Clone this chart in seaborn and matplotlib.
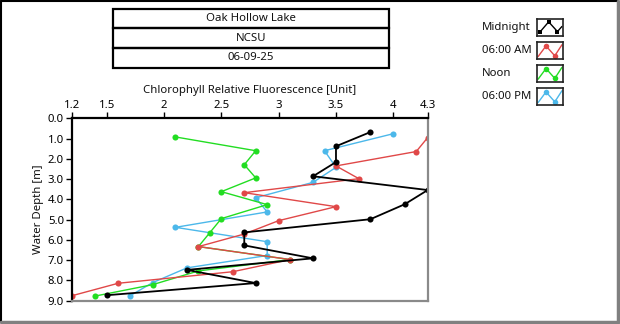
import numpy as np
import pandas as pd
import matplotlib
matplotlib.use("Agg")
import matplotlib.pyplot as plt
from matplotlib.lines import Line2D
from matplotlib.patches import Rectangle
import seaborn as sns

# ---- data ----
series_names = ["Midnight", "06:00 AM", "Noon", "06:00 PM"]
midnight_val = [3.8, 3.5, 3.5, 3.3, 4.3, 4.1, 3.8, 2.7, 2.7, 3.3, 2.2, 2.8, 1.5]
midnight_depth = [0.68, 1.38, 2.16, 2.86, 3.54, 4.24, 4.98, 5.63, 6.27, 6.91, 7.48, 8.13, 8.73]
am_val = [4.3, 4.2, 3.5, 3.7, 2.7, 3.5, 3.0, 2.7, 2.3, 3.1, 2.6, 1.6, 1.2]
am_depth = [0.95, 1.64, 2.35, 2.98, 3.67, 4.36, 5.05, 5.71, 6.33, 6.97, 7.57, 8.14, 8.75]
noon_val = [2.1, 2.8, 2.7, 2.8, 2.5, 2.9, 2.5, 2.4, 2.3, 3.1, 2.3, 1.9, 1.4]
noon_depth = [0.92, 1.60, 2.29, 2.94, 3.62, 4.26, 4.95, 5.64, 6.33, 6.97, 7.53, 8.21, 8.77]
pm_val = [4.0, 3.4, 3.5, 3.3, 2.8, 2.9, 2.1, 2.9, 2.9, 2.2, 1.9, 1.7]
pm_depth = [0.76, 1.60, 2.42, 3.16, 3.92, 4.62, 5.38, 6.09, 6.77, 7.38, 8.11, 8.77]

x_ticks = [1.2, 1.5, 2, 2.5, 3, 3.5, 4, 4.3]
x_tick_labels = ["1.2", "1.5", "2", "2.5", "3", "3.5", "4", "4.3"]
y_ticks = [0, 1, 2, 3, 4, 5, 6, 7, 8, 9]
y_tick_labels = ["0.0", "1.0", "2.0", "3.0", "4.0", "5.0", "6.0", "7.0", "8.0", "9.0"]
title_lines = ["Oak Hollow Lake", "NCSU", "06-09-25"]

colors = {"Midnight": "#000000", "06:00 AM": "#e04848",
          "Noon": "#22dd22", "06:00 PM": "#4cb8ea"}
widths = {"Midnight": 1.3, "06:00 AM": 1.0, "Noon": 1.0, "06:00 PM": 1.0}

frames = []
for name, v, d in [("Midnight", midnight_val, midnight_depth),
                   ("06:00 AM", am_val, am_depth),
                   ("Noon", noon_val, noon_depth),
                   ("06:00 PM", pm_val, pm_depth)]:
    frames.append(pd.DataFrame({"value": v, "depth": d, "series": name}))
df = pd.concat(frames, ignore_index=True)

sns.set_theme(style="white")
plt.rcParams["font.family"] = ["Noto Sans", "DejaVu Sans"]
FS = 8.2

W, H = 620, 324
fig = plt.figure(figsize=(W / 100, H / 100), dpi=100)
fig.patch.set_facecolor("white")

def fx(px):
    return px / W

def fy(py):
    return 1 - py / H

# axes
x0, x1, y0, y1 = 72.3, 427.7, 118.3, 300.7
ax = fig.add_axes([fx(x0), fy(y1), fx(x1) - fx(x0), fy(y0) - fy(y1)])
ax.set_facecolor("white")

for name in ["06:00 PM", "Noon", "06:00 AM", "Midnight"]:
    sub = df[df["series"] == name]
    sns.lineplot(data=sub, x="value", y="depth", sort=False, estimator=None,
                 color=colors[name], linewidth=widths[name], marker="o",
                 markersize=4.4, markeredgewidth=0, ax=ax, legend=False)

ax.set_xlim(1.2, 4.3)
ax.set_ylim(9.0, 0.0)
ax.xaxis.tick_top()
ax.xaxis.set_label_position("top")
ax.set_xticks(x_ticks)
ax.set_xticklabels(x_tick_labels, fontsize=FS)
ax.set_yticks(y_ticks)
ax.set_yticklabels(y_tick_labels, fontsize=FS)
ax.tick_params(axis="x", which="both", top=True, bottom=False, length=4,
               width=1, color="black", pad=1, labelcolor="black")
ax.tick_params(axis="y", which="both", left=True, length=4, width=1,
               color="black", pad=2, labelcolor="black")
ax.set_xlabel("Chlorophyll Relative Fluorescence [Unit]", fontsize=FS, labelpad=5, color="#111111")
ax.set_ylabel("Water Depth [m]", fontsize=FS, labelpad=2.5, color="#111111")
for side in ["left", "top"]:
    ax.spines[side].set_color("black")
    ax.spines[side].set_linewidth(1.6)
for side in ["right", "bottom"]:
    ax.spines[side].set_color("#8a8a8a")
    ax.spines[side].set_linewidth(1.6)
ax.grid(False)

# title boxes
bx0, bx1 = 112.7, 388.7
rows = [8.7, 28.3, 48.0, 68.0]
for i, t in enumerate(title_lines):
    top, bot = rows[i], rows[i + 1]
    fig.add_artist(Rectangle((fx(bx0), fy(bot)), fx(bx1) - fx(bx0), fy(top) - fy(bot),
                             transform=fig.transFigure, fill=False,
                             edgecolor="black", linewidth=1.6))
    fig.text(fx((bx0 + bx1) / 2), fy((top + bot) / 2), t, ha="center", va="center",
             fontsize=FS, color="#111111")

# legend
leg_rows = [27.3, 50.7, 73.3, 96.7]
for name, cy in zip(series_names, leg_rows):
    fig.text(fx(482), fy(cy), name, ha="left", va="center", fontsize=FS, color="#111111")
    lax = fig.add_axes([fx(536.7), fy(cy + 8.5), fx(26.6), 17 / H])
    lax.set_xlim(0, 1)
    lax.set_ylim(0, 1)
    lax.set_xticks([])
    lax.set_yticks([])
    lax.set_facecolor("white")
    for s in lax.spines.values():
        s.set_color("#222222")
        s.set_linewidth(1.2)
    if name == "Midnight":
        px = [0.12, 0.45, 0.78, 0.95]
        py = [0.22, 0.82, 0.25, 0.55]
        mk = "s"
        ms = 3.2
        mi = [0, 1, 2]
    else:
        px = [0.05, 0.35, 0.68, 0.95]
        py = [0.15, 0.78, 0.2, 0.85]
        mk = "o"
        ms = 4.0
        mi = [1, 2]
    lax.plot(px, py, color=colors[name], linewidth=1.0)
    lax.plot([px[i] for i in mi], [py[i] for i in mi], linestyle="none",
             marker=mk, markersize=ms, color=colors[name], markeredgewidth=0)

# outer frame
fig.add_artist(Line2D([fx(1), fx(1)], [fy(1), fy(321)], transform=fig.transFigure,
                      color="black", linewidth=1.5))
fig.add_artist(Line2D([fx(1), fx(618)], [fy(1), fy(1)], transform=fig.transFigure,
                      color="black", linewidth=1.5))
fig.add_artist(Line2D([fx(618), fx(618)], [fy(1), fy(322)], transform=fig.transFigure,
                      color="#808080", linewidth=2.5))
fig.add_artist(Line2D([fx(1), fx(618)], [fy(322), fy(322)], transform=fig.transFigure,
                      color="#808080", linewidth=2.5))

fig.savefig("out.png", dpi=100, facecolor="white")
